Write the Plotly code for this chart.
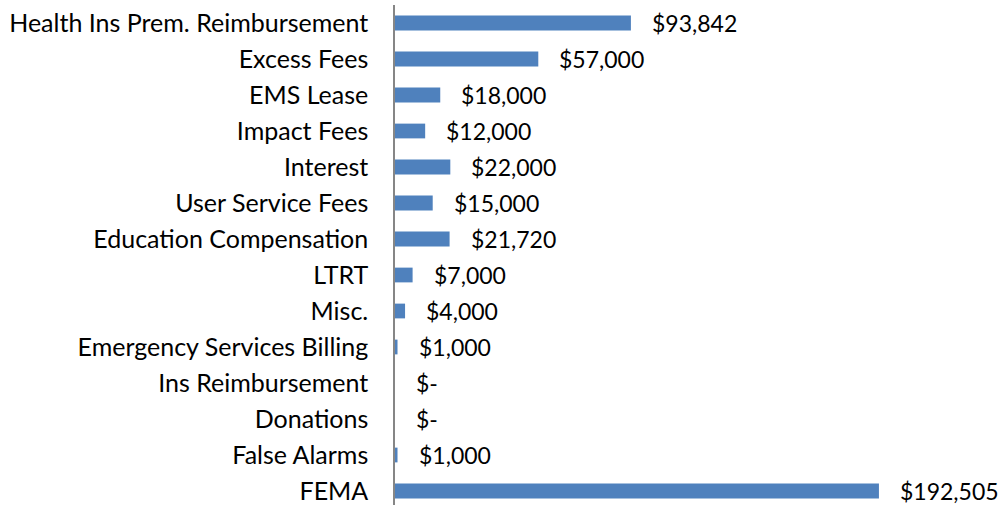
import plotly.graph_objects as go

categories = ["Health Ins Prem. Reimbursement", "Excess Fees", "EMS Lease", "Impact Fees",
              "Interest", "User Service Fees", "Education Compensation", "LTRT", "Misc.",
              "Emergency Services Billing", "Ins Reimbursement", "Donations", "False Alarms", "FEMA"]
values = [93842, 57000, 18000, 12000, 22000, 15000, 21720, 7000, 4000, 1000, 0, 0, 1000, 192505]

def fmt(v):
    return "$-" if v == 0 else "${:,}".format(v)

labels = [fmt(v) for v in values]

FONT = "Lato"
fig = go.Figure(go.Bar(
    x=values, y=categories, orientation="h",
    marker=dict(color="#4F81BD", line=dict(width=0)),
    width=0.41, hoverinfo="skip",
))

for c, v, t in zip(categories, values, labels):
    fig.add_annotation(x=v, y=c, text=t, xanchor="left", yanchor="middle",
                       xshift=19, showarrow=False,
                       font=dict(family=FONT, size=23, color="#000000"))

fig.update_layout(
    width=1005, height=505,
    margin=dict(l=395, r=0, t=5, b=0, autoexpand=False),
    paper_bgcolor="white", plot_bgcolor="white",
    showlegend=False,
    font=dict(family=FONT, size=25, color="#000000"),
    xaxis=dict(range=[0, 242650], visible=False, showgrid=False, zeroline=False,
               automargin=False),
    yaxis=dict(
        categoryorder="array", categoryarray=categories,
        range=[13.389, -0.5], automargin=False,
        showline=True, linecolor="#868686", linewidth=1.5,
        showgrid=False, zeroline=False, ticks="",
        ticklabelstandoff=20,
        tickfont=dict(family=FONT, size=25, color="#000000"),
    ),
)

fig.write_html("out.html", config={"displayModeBar": False},
               post_script="document.body.style.margin='0';document.body.style.overflow='hidden';")
